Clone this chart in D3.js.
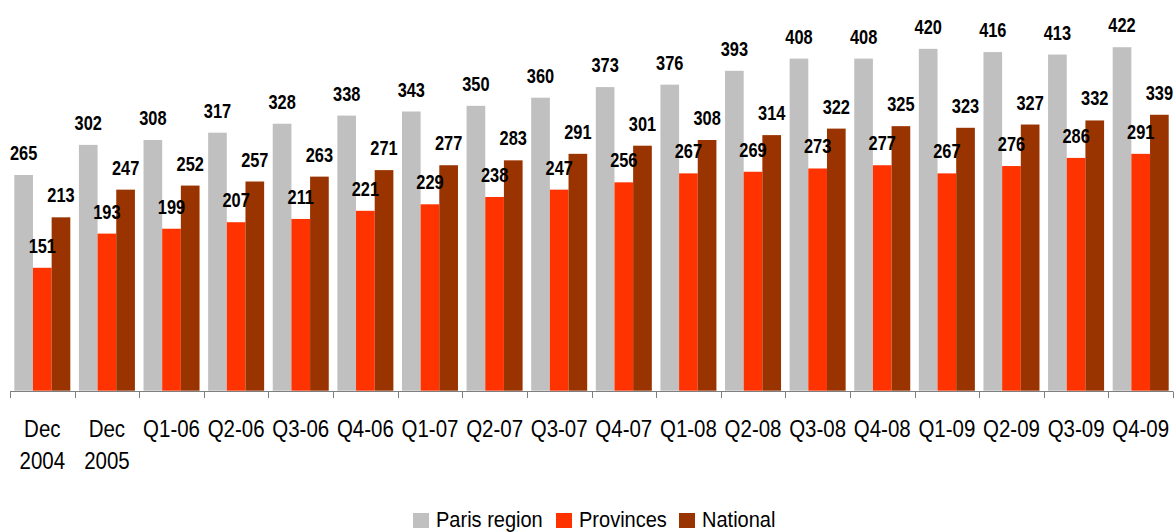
<!DOCTYPE html>
<html><head><meta charset="utf-8">
<script src="https://cdn.jsdelivr.net/npm/d3@7"></script>
<style>body{margin:0;background:#fff}svg{display:block}</style>
</head><body>
<svg id="c" width="1174" height="532"></svg>
<script>
const categories = [["Dec","2004"],["Dec","2005"],["Q1-06"],["Q2-06"],["Q3-06"],["Q4-06"],["Q1-07"],["Q2-07"],["Q3-07"],["Q4-07"],["Q1-08"],["Q2-08"],["Q3-08"],["Q4-08"],["Q1-09"],["Q2-09"],["Q3-09"],["Q4-09"]];
const paris = [265,302,308,317,328,338,343,350,360,373,376,393,408,408,420,416,413,422];
const provinces = [151,193,199,207,211,221,229,238,247,256,267,269,273,277,267,276,286,291];
const national = [213,247,252,257,263,271,277,283,291,301,308,314,322,325,323,327,332,339];
const seriesNames = ["Paris region","Provinces","National"];
const colors = ["#C0C0C0","#FF3300","#993300"];

const font = "'Liberation Sans Narrow','Arial Narrow','Liberation Sans',Arial,sans-serif";
const SX = 0.82, SX2 = 0.89;
const svg = d3.select("#c");
const x0 = d3.scaleBand().domain(d3.range(categories.length)).range([10,1173]).paddingInner(0).paddingOuter(0);
const x1 = d3.scaleBand().domain([0,1,2]).range([4.3, x0.bandwidth()-4.3]);
const y = d3.scaleLinear().domain([0,480]).range([390.7,0]);
const data = [paris, provinces, national];

const gb = svg.append("g");
const gl = svg.append("g");
data.forEach((vals, s) => {
  gb.selectAll(null).data(vals).enter().append("rect")
    .attr("x", (d,i)=>x0(i)+x1(s))
    .attr("y", d=>y(d))
    .attr("width", x1.bandwidth())
    .attr("height", d=>y(0)-y(d))
    .attr("fill", colors[s]);
  gl.selectAll(null).data(vals).enter().append("text")
    .attr("transform", (d,i)=>`translate(${x0(i)+x1(s)+x1.bandwidth()/2},${y(d)-15}) scale(${SX},1)`)
    .attr("text-anchor","middle")
    .attr("font-family", font).attr("font-weight","bold").attr("font-size", 20)
    .attr("fill","#000")
    .text(d=>d);
});

// axis
const ax = svg.append("g");
ax.append("line").attr("x1",10).attr("x2",1173).attr("y1",391.5).attr("y2",391.5).attr("stroke","#7f7f7f").attr("stroke-width",1);
const tickPos = d3.range(categories.length+1).map(i => i<categories.length ? x0(i) : 1173);
ax.selectAll(null).data(tickPos).enter().append("line")
  .attr("x1",d=>Math.round(d)+0.5).attr("x2",d=>Math.round(d)+0.5).attr("y1",391.5).attr("y2",398)
  .attr("stroke","#7f7f7f");
const lbl = ax.selectAll(null).data(categories).enter().append("text")
  .attr("transform",(d,i)=>`translate(${x0(i)+x0.bandwidth()/2},437) scale(${SX2},1)`)
  .attr("text-anchor","middle")
  .attr("font-family",font).attr("font-size",23).attr("fill","#000");
lbl.each(function(d){
  const t = d3.select(this);
  d.forEach((line,k)=>{
    t.append("tspan").attr("x", 0).attr("dy", k===0?0:32).text(line);
  });
});

// legend
const legX = [413, 556, 679];
const leg = svg.append("g");
seriesNames.forEach((n,s)=>{
  leg.append("rect").attr("x",legX[s]).attr("y",513).attr("width",16).attr("height",15).attr("fill",colors[s]);
  leg.append("text").attr("transform",`translate(${legX[s]+23},527) scale(${SX2+0.02},1)`).attr("font-family",font).attr("font-size",22).attr("fill","#000").text(n);
});
</script>
</body></html>
